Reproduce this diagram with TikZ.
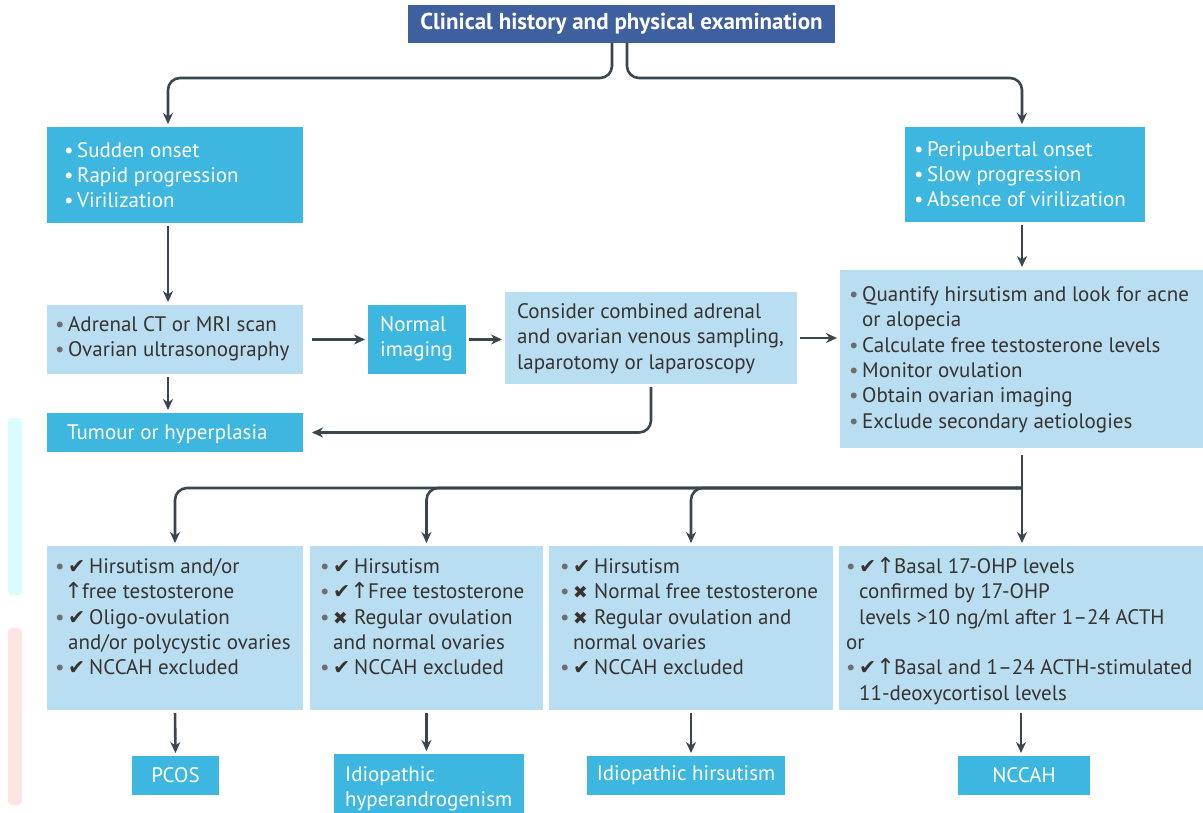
\documentclass[tikz,border=0pt]{standalone}
\usepackage{fontspec}
\setmainfont{PT Sans}
\newfontfamily\symfont{DejaVu Sans}
\usetikzlibrary{arrows.meta}
\definecolor{dkblue}{HTML}{3E609F}
\definecolor{cyanbox}{HTML}{3DB7E0}
\definecolor{ltbox}{HTML}{B9DEF1}
\definecolor{arrowc}{HTML}{39464F}
\definecolor{txtc}{HTML}{363330}
\definecolor{bulc}{HTML}{6E6E6E}
\definecolor{artcyan}{HTML}{D9FCFC}
\definecolor{artpink}{HTML}{FFE4E4}
\newcommand\wbl{\makebox[13pt][l]{•}}
\newcommand\gbl{\makebox[13pt][l]{\textcolor{bulc}{•}}}
\newcommand\ind{\hspace*{13pt}}
\newcommand\ck{\makebox[21pt][l]{\raisebox{0pt}[0pt][0pt]{\symfont\fontsize{20.5}{20}\selectfont ✔}}}
\newcommand\xk{\makebox[21pt][l]{\raisebox{0pt}[0pt][0pt]{\symfont\fontsize{17.5}{17}\selectfont ✖}}}
\newcommand\upa{\makebox[11pt]{\raisebox{0pt}[0pt][0pt]{\symfont\fontsize{22}{22}\selectfont ↑}}\hspace{3pt}}
\newcommand\st{\rule{0pt}{15pt}}
\tikzset{
  box/.style={anchor=north west, inner sep=0pt, outer sep=0pt},
  dbox/.style={box, fill=dkblue},
  cbox/.style={box, fill=cyanbox},
  lbox/.style={box, fill=ltbox},
  tx/.style={anchor=north west, inner sep=0pt, align=left, font=\fontsize{21}{25.4}\selectfont, text=txtc},
  wtx/.style={tx, text=white},
  ctx/.style={inner sep=0pt, font=\fontsize{21}{25.4}\selectfont, text=white},
  arr/.style={draw=arrowc, line width=2.6pt, -{Stealth[length=11pt,width=10pt]}, rounded corners=12pt, shorten <=3pt, shorten >=3pt},
}
\begin{document}
\begin{tikzpicture}[x=1pt,y=-1pt]
\useasboundingbox (0,0) rectangle (1203,813);
\fill[white] (0,0) rectangle (1203,813);
% faint edge marks
\fill[artcyan, rounded corners=4pt] (8,418) rectangle (22,595);
\fill[artpink, rounded corners=4pt] (8,628) rectangle (22,805);
\coordinate (colL) at (168,0);
\coordinate (colR) at (1022,0);
\coordinate (rowR) at (1022,488);
% boxes
\node[dbox, minimum width=427pt, minimum height=38pt] (tp) at (408,5) {};
\node[ctx, font=\fontsize{23}{24}\selectfont\bfseries] (tpt) at (tp.center) {Clinical history and physical examination};
\node[cbox, minimum width=256pt, minimum height=96pt] (A) at (47,127) {};
\node[wtx] (tA) at (64,142) {\st\wbl Sudden onset\\\wbl Rapid progression\\\wbl Virilization};
\node[cbox, minimum width=240pt, minimum height=95pt] (B) at (905,127) {};
\node[wtx] (tB) at (914,141) {\st\wbl Peripubertal onset\\\wbl Slow progression\\\wbl Absence of virilization};
\node[lbox, minimum width=256pt, minimum height=69pt] (C) at (47,305) {};
\node[tx] (tC) at (55,316) {\st\gbl Adrenal CT or MRI scan\\\gbl Ovarian ultrasonography};
\node[cbox, minimum width=98pt, minimum height=69pt] (N) at (368,305) {};
\node[wtx] (tN) at (380,316) {\st Normal\\imaging};
\node[lbox, minimum width=292pt, minimum height=92pt] (Con) at (505,292) {};
\node[tx] (tCon) at (517,303) {\st Consider combined adrenal\\and ovarian venous sampling,\\laparotomy or laparoscopy};
\node[lbox, minimum width=363pt, minimum height=178pt] (Q) at (840,270) {};
\node[tx] (tQ) at (849,286) {\st\gbl Quantify hirsutism and look for acne\\\ind or alopecia\\\gbl Calculate free testosterone levels\\\gbl Monitor ovulation\\\gbl Obtain ovarian imaging\\\gbl Exclude secondary aetiologies};
\node[cbox, minimum width=256pt, minimum height=39pt] (T) at (47,413) {};
\node[wtx] (tT) at (67,424) {\st Tumour or hyperplasia};
\node[lbox, minimum width=256pt, minimum height=164pt] (D1) at (47,546) {};
\node[tx] (tD1) at (55,558) {\st\gbl\ck Hirsutism and/or\\\ind\upa free testosterone\\\gbl\ck Oligo-ovulation\\\ind and/or polycystic ovaries\\\gbl\ck NCCAH excluded};
\node[lbox, minimum width=233pt, minimum height=164pt] (D2) at (310,546) {};
\node[tx] (tD2) at (320,558) {\st\gbl\ck Hirsutism\\\gbl\ck\upa Free testosterone\\\gbl\xk Regular ovulation\\\ind and normal ovaries\\\gbl\ck NCCAH excluded};
\node[lbox, minimum width=284pt, minimum height=164pt] (D3) at (549,546) {};
\node[tx] (tD3) at (560,558) {\st\gbl\ck Hirsutism\\\gbl\xk Normal free testosterone\\\gbl\xk Regular ovulation and\\\ind normal ovaries\\\gbl\ck NCCAH excluded};
\node[lbox, minimum width=364pt, minimum height=164pt] (D4) at (839,546) {};
\node[tx] (tD4) at (846,558) {\st\gbl\ck\upa Basal 17-OHP levels\\\ind confirmed by 17-OHP\\\ind levels >10 ng/ml after 1–24 ACTH\\or\\\gbl\ck\upa Basal and 1–24 ACTH-stimulated\\\ind 11-deoxycortisol levels};
\node[cbox, minimum width=87pt, minimum height=39pt] (P) at (132,756) {};
\node[ctx] (tP) at (P.center) {PCOS};
\node[cbox, minimum width=190pt, minimum height=60pt] (H) at (334,754) {};
\node[wtx] (tH) at (345,766) {\st Idiopathic\\hyperandrogenism};
\node[cbox, minimum width=198pt, minimum height=39pt] (IH) at (587,756) {};
\node[ctx] (tIH) at (IH.center) {Idiopathic hirsutism};
\node[cbox, minimum width=132pt, minimum height=39pt] (NC) at (958,756) {};
\node[ctx] (tNC) at (NC.center) {NCCAH};
% connectors
\draw[arr, shorten <=0pt] ([xshift=-9.5pt]tp.south) -- ++(0,35) -| (A.north -| colL);
\draw[arr, shorten <=0pt] ([xshift=5.5pt]tp.south) -- ++(0,35) -| (B.north -| colR);
\draw[arr] (A.south -| colL) -- (C.north -| colL);
\draw[arr] (B.south -| colR) -- (Q.north -| colR);
\draw[arr] (C.south -| colL) -- (T.north -| colL);
\draw[arr, shorten <=9pt] (C.east) -- (N.west);
\draw[arr] (N.east) -- (Con.west |- N.east);
\draw[arr] (Con.east) -- (Q.west |- Con.east);
\draw[arr, shorten >=9pt] (Con.south) |- (T.east);
\draw[arr, shorten <=7pt] (Q.south -| colR) -- (D4.north -| colR);
\draw[arr, shorten <=0pt] (rowR) -| (D1.north);
\draw[arr, shorten <=0pt] (rowR) -| (D2.north);
\draw[arr, shorten <=0pt] (rowR) -| (D3.north);
\draw[arr] (D1.south) -- (P.north);
\draw[arr] (D2.south) -- (H.north -| D2.south);
\draw[arr] (D3.south) -- (IH.north -| D3.south);
\draw[arr] (D4.south) -- (NC.north -| D4.south);
\end{tikzpicture}
\end{document}
